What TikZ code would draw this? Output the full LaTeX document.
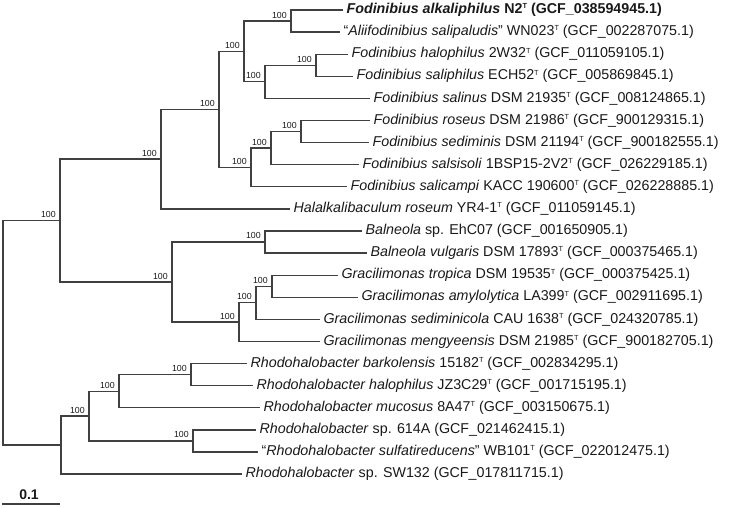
\documentclass[tikz,border=0pt]{standalone}
\usepackage{fontspec}
\setmainfont{Liberation Sans}
\usetikzlibrary{positioning,calc}
\newcommand{\tsup}{\raisebox{3.6pt}{\fontsize{5.5}{6}\selectfont T}}

\begin{document}
\begin{tikzpicture}[x=0.75pt,y=-0.75pt,
  branch/.style={draw=black!75, line width=1pt},
  leaf/.style={anchor=west, inner xsep=2.5pt, inner ysep=0pt, text=black!90,
               font=\fontsize{10.7}{12}\selectfont},
  boot/.style={anchor=south east, inner sep=0pt, xshift=-3pt, yshift=2pt,
               text=black!90, font=\fontsize{6.6}{7}\selectfont}]
  \useasboundingbox (0,0) rectangle (735,507);
  \def\dy{22.1}

  % leaves: number / tip x / label
  \foreach \i/\x/\t in {
    1/343/{\textbf{\textit{Fodinibius alkaliphilus} N2\tsup{} (GCF\_038594945.1)}},
    2/340/{“\textit{Aliifodinibius salipaludis}” WN023\tsup{} (GCF\_002287075.1)},
    3/348/{\textit{Fodinibius halophilus} 2W32\tsup{} (GCF\_011059105.1)},
    4/353/{\textit{Fodinibius saliphilus} ECH52\tsup{} (GCF\_005869845.1)},
    5/370/{\textit{Fodinibius salinus} DSM 21935\tsup{} (GCF\_008124865.1)},
    6/370/{\textit{Fodinibius roseus} DSM 21986\tsup{} (GCF\_900129315.1)},
    7/369/{\textit{Fodinibius sediminis} DSM 21194\tsup{} (GCF\_900182555.1)},
    8/359/{\textit{Fodinibius salsisoli} 1BSP15-2V2\tsup{} (GCF\_026229185.1)},
    9/347/{\textit{Fodinibius salicampi} KACC 190600\tsup{} (GCF\_026228885.1)},
    10/290/{\textit{Halalkalibaculum roseum} YR4-1\tsup{} (GCF\_011059145.1)},
    11/362/{\textit{Balneola} sp. EhC07 (GCF\_001650905.1)},
    12/367/{\textit{Balneola vulgaris} DSM 17893\tsup{} (GCF\_000375465.1)},
    13/338/{\textit{Gracilimonas tropica} DSM 19535\tsup{} (GCF\_000375425.1)},
    14/358/{\textit{Gracilimonas amylolytica} LA399\tsup{} (GCF\_002911695.1)},
    15/320/{\textit{Gracilimonas sediminicola} CAU 1638\tsup{} (GCF\_024320785.1)},
    16/320/{\textit{Gracilimonas mengyeensis} DSM 21985\tsup{} (GCF\_900182705.1)},
    17/247/{\textit{Rhodohalobacter barkolensis} 15182\tsup{} (GCF\_002834295.1)},
    18/253/{\textit{Rhodohalobacter halophilus} JZ3C29\tsup{} (GCF\_001715195.1)},
    19/260/{\textit{Rhodohalobacter mucosus} 8A47\tsup{} (GCF\_003150675.1)},
    20/256/{\textit{Rhodohalobacter} sp. 614A (GCF\_021462415.1)},
    21/258/{“\textit{Rhodohalobacter sulfatireducens}” WB101\tsup{} (GCF\_022012475.1)},
    22/242/{\textit{Rhodohalobacter} sp. SW132 (GCF\_017811715.1)}}
    \node[leaf] (l\i) at (\x,{10+\dy*(\i-1)}) {\t};

  % internal nodes
  \coordinate (alk)  at (291,21.05);
  \coordinate (hs)   at (316,65.25);
  \coordinate (hss)  at (265,81.8);
  \coordinate (fa)   at (244,51.4);
  \coordinate (rs)   at (301,131.55);
  \coordinate (rss)  at (271,148.1);
  \coordinate (rssc) at (251,167.45);
  \coordinate (fod)  at (219,109.4);
  \coordinate (fh)   at (161,159.15);
  \coordinate (bal)  at (265,242);
  \coordinate (ta)   at (272,286.25);
  \coordinate (tas)  at (256,302.8);
  \coordinate (gra)  at (239,322.15);
  \coordinate (bg)   at (172,282.1);
  \coordinate (top)  at (60,220.6);
  \coordinate (bh)   at (191,374.65);
  \coordinate (bhm)  at (119,391.2);
  \coordinate (ss)   at (193,441);
  \coordinate (rh)   at (89,416.1);
  \coordinate (rho)  at (61,445.1);
  \coordinate (root) at (3,332.85);

  % branches
  \foreach \p/\c in {alk/l1,alk/l2,hs/l3,hs/l4,hss/hs,hss/l5,fa/alk,fa/hss,
      rs/l6,rs/l7,rss/rs,rss/l8,rssc/rss,rssc/l9,fod/fa,fod/rssc,fh/fod,fh/l10,
      bal/l11,bal/l12,ta/l13,ta/l14,tas/ta,tas/l15,gra/tas,gra/l16,bg/bal,bg/gra,
      top/fh,top/bg,bh/l17,bh/l18,bhm/bh,bhm/l19,ss/l20,ss/l21,rh/bhm,rh/ss,
      rho/rh,rho/l22,root/top,root/rho}
    \draw[branch] (\p) |- (\c);

  % bootstrap values
  \foreach \c in {alk,hs,hss,fa,rs,rss,rssc,fod,fh,bal,ta,tas,gra,bg,top,bh,bhm,ss,rh}
    \node[boot] (b-\c) at (\c) {100};

  % scale bar
  \coordinate (sb0) at (2,504);
  \coordinate (sb1) at (60,504);
  \draw[branch] (sb0) -- (sb1);
  \node[anchor=south, inner sep=0pt, font=\fontsize{10.5}{12}\selectfont\bfseries,
        text=black!90] (sbl) at ($(sb0)!0.5!(sb1)+(-2,-4)$) {0.1};
\end{tikzpicture}
\end{document}
